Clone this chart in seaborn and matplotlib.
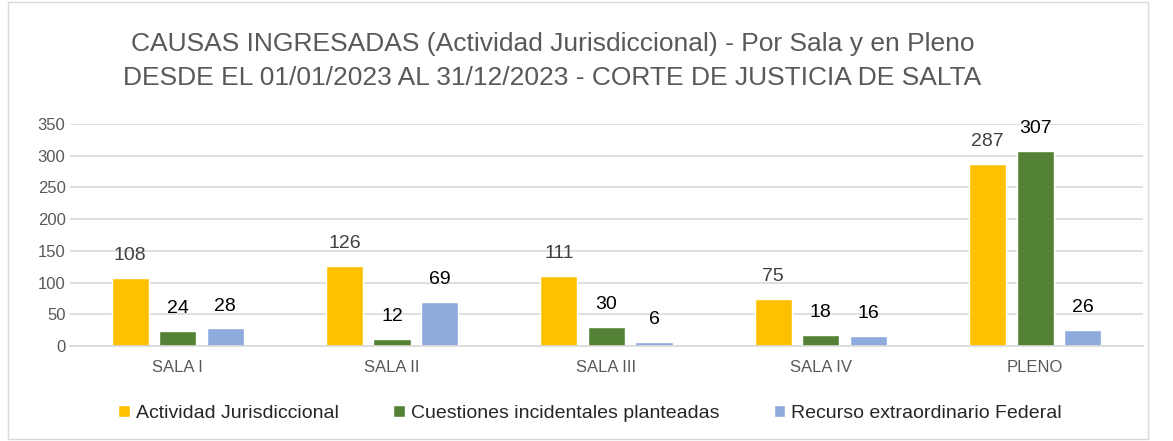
import seaborn as sns
import pandas as pd
import matplotlib.pyplot as plt
from matplotlib.patches import Rectangle

salas = ['SALA I', 'SALA II', 'SALA III', 'SALA IV', 'PLENO']
series = ['Actividad Jurisdiccional', 'Cuestiones incidentales planteadas', 'Recurso extraordinario Federal']
actividad = [108, 126, 111, 75, 287]
cuestiones = [24, 12, 30, 18, 307]
recurso = [28, 69, 6, 16, 26]
colores = ['#FFC000', '#548235', '#8FAADC']

df = pd.DataFrame({
    'Sala': salas * 3,
    'Serie': [series[0]] * 5 + [series[1]] * 5 + [series[2]] * 5,
    'Causas': actividad + cuestiones + recurso,
})

sns.set_style('white')
plt.rcParams['font.family'] = ['Liberation Sans', 'DejaVu Sans']

fig = plt.figure(figsize=(11.73, 4.41), dpi=100)
ax = fig.add_axes([0.060, 0.215, 0.914, 0.504])

sns.barplot(data=df, x='Sala', y='Causas', hue='Serie', palette=colores,
            saturation=1, width=0.665, gap=0.22, ax=ax, legend=True)

ax.set_ylim(0, 350)
ax.set_yticks(range(0, 351, 50))
ax.set_xlim(-0.5, 4.5)
ax.grid(axis='y', color='#d9d9d9', linewidth=1.2)
ax.set_axisbelow(True)
for s in ['top', 'right', 'left']:
    ax.spines[s].set_visible(False)
ax.spines['bottom'].set_color('#d9d9d9')
ax.spines['bottom'].set_linewidth(1.2)
ax.tick_params(axis='both', length=0, labelsize=12, labelcolor='#595959')
ax.tick_params(axis='x', pad=10)
ax.set_xlabel('')
ax.set_ylabel('')

label_colors = ['#404040', 'black', 'black']
for cont, c in zip(ax.containers, label_colors):
    ax.bar_label(cont, padding=10, fontsize=14, color=c)

handles, labels = ax.get_legend_handles_labels()
ax.legend_.remove()
fig.legend(handles, labels, loc='center', bbox_to_anchor=(0.503, 0.063), ncol=3,
           frameon=False, fontsize=14, handlelength=0.6, handleheight=0.6,
           handletextpad=0.3, columnspacing=2.8)

fig.text(0.471, 0.90, 'CAUSAS INGRESADAS (Actividad Jurisdiccional) - Por Sala y en Pleno',
         ha='center', va='center', fontsize=19, color='#595959')
fig.text(0.471, 0.823, 'DESDE EL 01/01/2023 AL 31/12/2023 - CORTE DE JUSTICIA DE SALTA',
         ha='center', va='center', fontsize=19, color='#595959')

fig.patches.append(Rectangle((8 / 1173, 2 / 441), 1140 / 1173, 437 / 441,
                             transform=fig.transFigure, fill=False,
                             edgecolor='#d9d9d9', linewidth=1))

fig.savefig('out.png', dpi=100)
